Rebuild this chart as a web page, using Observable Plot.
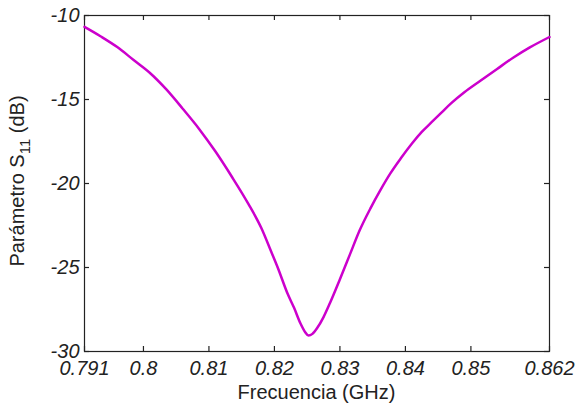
<!DOCTYPE html>
<html>
<head>
<meta charset="utf-8">
<script src="https://cdn.jsdelivr.net/npm/d3@7"></script>
<script src="https://cdn.jsdelivr.net/npm/@observablehq/plot@0.6"></script>
<style>
  html, body { margin: 0; padding: 0; background: #fff; }
  #chart { width: 581px; height: 412px; }
</style>
</head>
<body>
<div id="chart"></div>
<script>
const freqGHz = [0.7910, 0.7935, 0.7960, 0.7985, 0.8010, 0.8035, 0.8060, 0.8085, 0.8110, 0.8135,
  0.8160, 0.8180, 0.8195, 0.8205, 0.8220, 0.8230, 0.8240, 0.8247, 0.8252, 0.8258, 0.8265, 0.8275,
  0.8285, 0.8300, 0.8315, 0.8330, 0.8347, 0.8362, 0.8377, 0.8393, 0.8410, 0.8425, 0.8440, 0.8455,
  0.8470, 0.8490, 0.8515, 0.8540, 0.8565, 0.8590, 0.8620];
const s11dB = [-10.68, -11.25, -11.88, -12.65, -13.42, -14.40, -15.55, -16.75, -18.10, -19.60,
  -21.20, -22.65, -24.05, -25.00, -26.55, -27.40, -28.35, -28.85, -29.05, -28.95, -28.62, -27.95,
  -27.10, -25.70, -24.25, -22.80, -21.45, -20.38, -19.40, -18.50, -17.62, -16.93, -16.35, -15.78,
  -15.22, -14.57, -13.87, -13.18, -12.50, -11.90, -11.28];
const xTicks = [0.791, 0.8, 0.81, 0.82, 0.83, 0.84, 0.85, 0.862];
const yTicks = [-30, -25, -20, -15, -10];
const xLabel = "Frecuencia (GHz)";
const yLabelMain = "Parámetro S";
const yLabelSub = "11";
const yLabelTail = " (dB)";

const data = freqGHz.map((f, i) => ({f, s: s11dB[i]}));

const W = 581, H = 412;
const mL = 84, mR = 32, mT = 15, mB = 61;
const frameW = W - mL - mR, frameH = H - mT - mB;
const tickLen = 5;
const font = "'Liberation Sans', Arial, sans-serif";

const plot = Plot.plot({
  width: W,
  height: H,
  marginLeft: mL,
  marginRight: mR,
  marginTop: mT,
  marginBottom: mB,
  style: {fontFamily: font, fontSize: "20px", background: "#fff", color: "#000"},
  x: {domain: [0.791, 0.862]},
  y: {domain: [-30, -10]},
  marks: [
    Plot.frame({stroke: "#222", strokeWidth: 1.2}),
    Plot.tickX(xTicks, {x: d => d, insetTop: frameH - tickLen, stroke: "#222", strokeWidth: 1.2}),
    Plot.tickX(xTicks, {x: d => d, insetBottom: frameH - tickLen, stroke: "#222", strokeWidth: 1.2}),
    Plot.tickY(yTicks, {y: d => d, insetRight: frameW - tickLen, stroke: "#222", strokeWidth: 1.2}),
    Plot.tickY(yTicks, {y: d => d, insetLeft: frameW - tickLen, stroke: "#222", strokeWidth: 1.2}),
    Plot.axisX({ticks: xTicks, tickSize: 0, tickPadding: 9, tickFormat: d => String(d),
      fontStyle: "italic", fontSize: 20, label: null, fill: "#222"}),
    Plot.axisY({ticks: yTicks, tickSize: 0, tickPadding: 5, tickFormat: d => String(d),
      fontStyle: "italic", fontSize: 20, label: null, fill: "#222"}),
    Plot.line(data, {x: "f", y: "s", stroke: "#cc00cc", strokeWidth: 2.5, curve: "monotone-x"})
  ]
});

const svg = d3.select(plot);
svg.append("text")
  .attr("x", mL + frameW / 2)
  .attr("y", 399)
  .attr("text-anchor", "middle")
  .attr("font-family", font)
  .attr("font-size", 20)
  .attr("fill", "#222")
  .text(xLabel);

const yl = svg.append("text")
  .attr("transform", `translate(24, ${mT + frameH / 2 - 2}) rotate(-90)`)
  .attr("text-anchor", "middle")
  .attr("font-family", font)
  .attr("font-size", 20)
  .attr("fill", "#222");
yl.append("tspan").text(yLabelMain);
yl.append("tspan").attr("font-size", 15).attr("dy", 6).text(yLabelSub);
yl.append("tspan").attr("dy", -6).text(yLabelTail);

document.getElementById("chart").appendChild(plot);
</script>
</body>
</html>
